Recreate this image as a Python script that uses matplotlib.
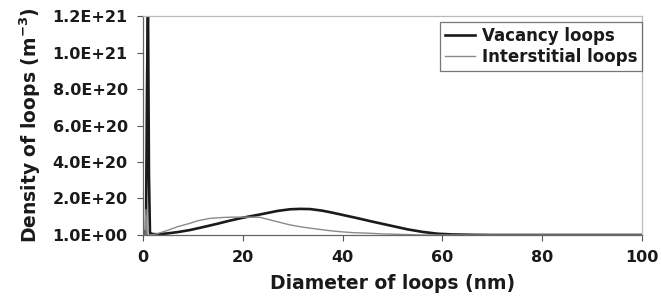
import numpy as np
import matplotlib
matplotlib.use('Agg')
import matplotlib.pyplot as plt

# loop diameters (nm) and densities (m^-3)
vac_d = [0, 0.3, 0.6, 0.8, 1.0, 1.2, 1.4, 2, 3, 5, 7, 9.4, 12, 15, 17, 19.4, 21, 23, 25, 27, 29.5,
         31.5, 33.5, 36, 38, 40, 43, 46, 50, 53, 56, 59, 62, 66, 70, 100]
vac_n = [1, 2e19, 0, 7.8e20, 1.3e21, 3.3e20, 1e19, 5e18, 4e18, 9e18, 1.6e19, 2.7e19, 4.3e19, 6.2e19,
         7.6e19, 9.1e19, 1.0e20, 1.1e20, 1.21e20, 1.32e20, 1.41e20,
         1.43e20, 1.42e20, 1.33e20, 1.22e20, 1.1e20, 9.2e19, 7.3e19, 4.9e19, 3.1e19, 1.7e19, 7e18, 3e18, 1e18, 0, 0]

int_d = [0, 0.4, 0.6, 0.8, 2, 3, 5, 7, 9.4, 11, 13.4, 16, 18, 20, 21.5, 23.4, 25, 27, 29.5, 32, 35,
         37, 39.5, 42, 45, 48, 52, 56, 100]
int_n = [1, 0, 1.4e20, 0, 2e18, 8e18, 2.6e19, 4.6e19, 6.4e19, 7.8e19, 9.1e19, 9.6e19, 9.8e19, 9.8e19,
         9.8e19, 9.7e19, 8.6e19, 7.2e19, 5.5e19, 4.3e19, 3.2e19, 2.5e19, 1.8e19, 1.3e19, 1e19, 6e18, 3e18, 0, 0]

xticks = [0, 20, 40, 60, 80, 100]
yticks = [0, 2e20, 4e20, 6e20, 8e20, 1e21, 1.2e21]
ylabels = ['1.0E+00', '2.0E+20', '4.0E+20', '6.0E+20', '8.0E+20', '1.0E+21', '1.2E+21']

plt.rcParams['font.family'] = 'DejaVu Sans'
plt.rcParams['font.weight'] = 'bold'

fig = plt.figure(figsize=(6.61, 3.02), dpi=100)
ax = fig.add_axes([0.2163, 0.2219, 0.755, 0.725])

ax.plot(vac_d, vac_n, color='#1a1a1a', lw=1.9, label='Vacancy loops')
ax.plot(int_d, int_n, color='#8a8a8a', lw=1.0, label='Interstitial loops')

ax.set_xlim(0, 100)
ax.set_ylim(0, 1.2e21)
ax.set_xticks(xticks)
ax.set_xticklabels([str(t) for t in xticks])
ax.set_yticks(yticks)
ax.set_yticklabels(ylabels)

ax.tick_params(axis='both', direction='out', length=4.5, width=0.8, color='#555555',
               pad=6.5, labelsize=11.5, labelcolor='#1a1a1a')
for lab in ax.get_xticklabels() + ax.get_yticklabels():
    lab.set_fontweight('bold')

ax.spines['left'].set_color('#666666')
ax.spines['bottom'].set_color('#666666')
ax.spines['top'].set_color('#bbbbbb')
ax.spines['right'].set_color('#bbbbbb')
for s in ax.spines.values():
    s.set_linewidth(0.9)

ax.set_xlabel('Diameter of loops (nm)', fontsize=13.5, fontweight='bold', color='#1a1a1a', labelpad=6)
ax.set_ylabel('Density of loops (m$^{\\mathbf{-3}}$)', fontsize=13.5, fontweight='bold', color='#1a1a1a', labelpad=7)

leg = ax.legend(loc='upper right', bbox_to_anchor=(1.0, 0.975), fontsize=12, frameon=True, fancybox=False,
                handlelength=1.8, handletextpad=0.4, borderpad=0.3, labelspacing=0.2,
                borderaxespad=0.0)
leg.get_frame().set_edgecolor('#555555')
leg.get_frame().set_linewidth(0.9)
for t in leg.get_texts():
    t.set_color('#1a1a1a')

fig.savefig('out.png', dpi=100)
